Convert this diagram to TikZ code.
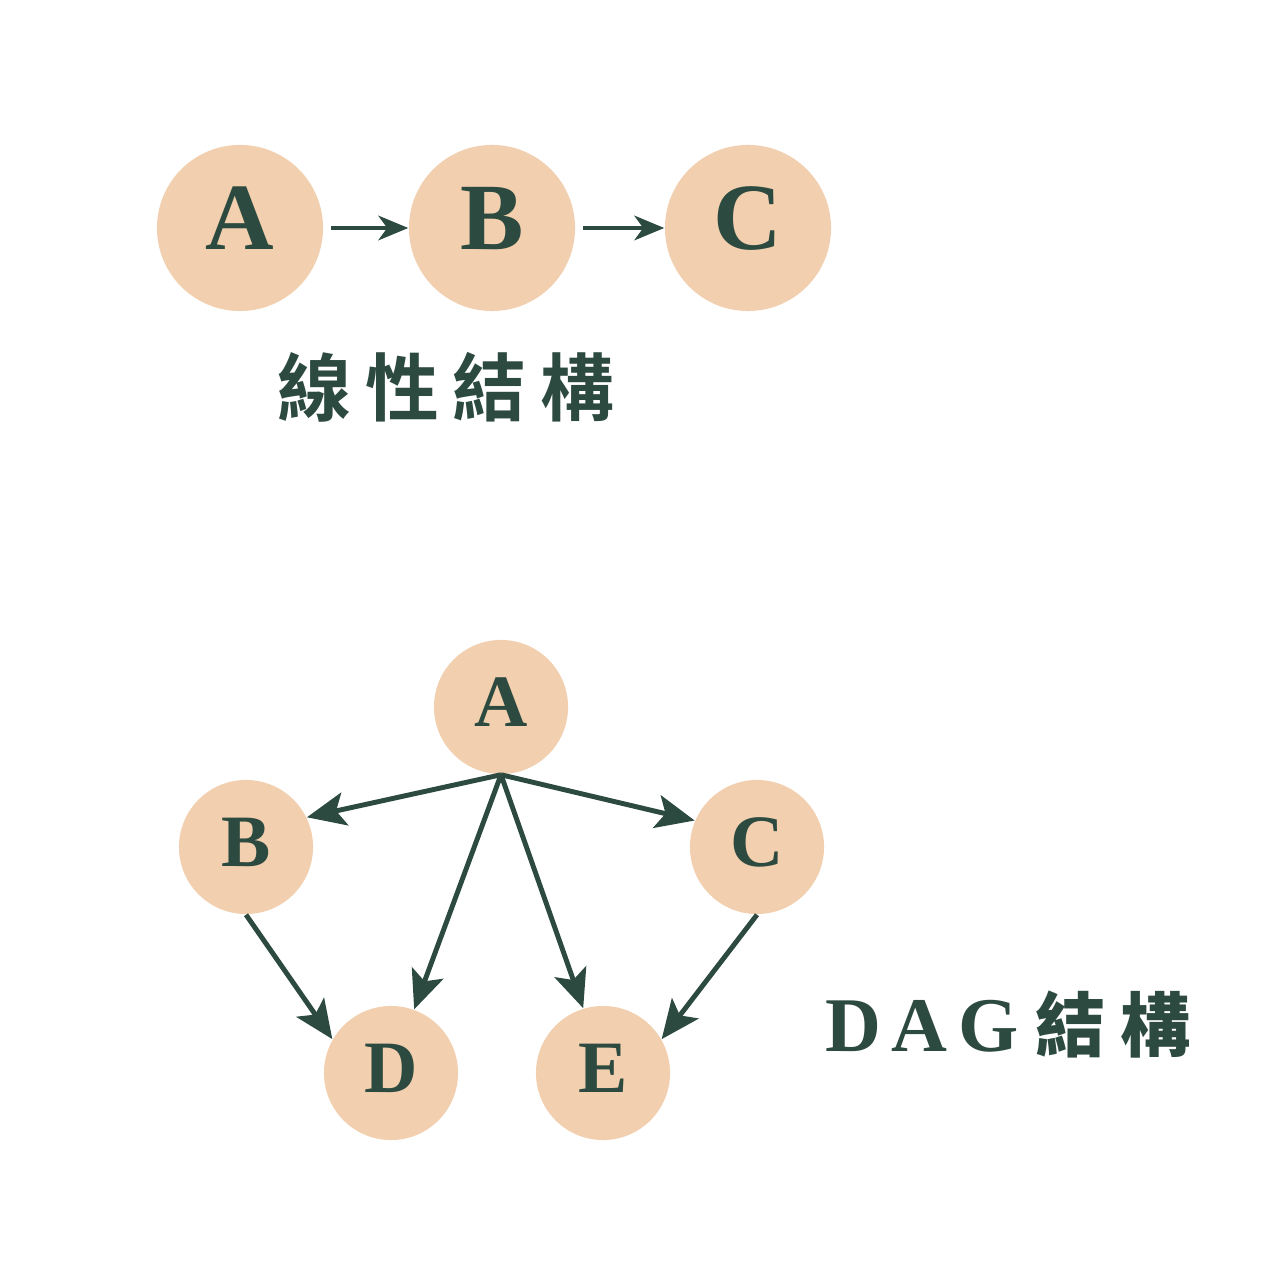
\documentclass[tikz,border=0pt]{standalone}
\usepackage{fontspec}
\setmainfont{Liberation Serif}
\newfontfamily\cjk{Noto Sans CJK TC Bold}
\usepackage{tikz}
\usetikzlibrary{arrows.meta}
\definecolor{peach}{HTML}{F2CFAE}
\definecolor{pine}{HTML}{2D4A40}
\tikzset{big/.style={circle, fill=peach, minimum size=1.66cm, inner sep=0pt, text=pine, text height=18pt, text depth=5.6pt, font=\fontsize{27}{27}\selectfont\bfseries},
	small/.style={circle, fill=peach, minimum size=1.34cm, inner sep=0pt, text=pine, text height=13.9pt, text depth=2.8pt, font=\fontsize{21}{21}\selectfont\bfseries},
	link/.style={draw=pine, line width=1.1pt, -{Stealth[length=8.5pt,width=7pt,inset=2.5pt]}},
	edge/.style={draw=pine, line width=1.4pt, -{Stealth[length=11pt,width=9.5pt,inset=2.5pt]}}}

\begin{document}
\begin{tikzpicture}[x=0.01cm, y=-0.01cm]
		\useasboundingbox[fill=white] (0,0) rectangle (1280,1280);
		\node[big] (la) at (240,228) {A};
		\node[big] (lb) at (492,228) {B};
		\node[big] (lc) at (748,228) {C};
		\draw[link, shorten <=0.07cm] (la) -- (lb);
		\draw[link, shorten <=0.07cm] (lb) -- (lc);
		\node[text=pine, font=\cjk\fontsize{21}{21}\selectfont] (ltitle) at (446,387) {線\hspace{4pt}性\hspace{4pt}結\hspace{4pt}構};
		
		\node[small] (da) at (501,707) {A};
		\node[small] (db) at (246,847) {B};
		\node[small] (dc) at (757,847) {C};
		\node[small] (dd) at (391,1073) {D};
		\node[small] (de) at (603,1073) {E};
		\draw[edge] (da.south) -- (db.26);
		\draw[edge] (da.south) -- (dc.157);
		\draw[edge] (da.south) -- (dd.70);
		\draw[edge] (da.south) -- (de.107);
		\draw[edge] (db.south) -- (dd.150);
		\draw[edge] (dc.south) -- (de.30);
		\node[text=pine, font=\fontsize{22}{22}\selectfont\bfseries] (dtitle) at (1008,1025) {D\hspace{3pt}A\hspace{3pt}G\hspace{5pt}{\cjk\fontsize{20}{20}\selectfont 結\hspace{4pt}構}};
	\end{tikzpicture}
\end{document}
